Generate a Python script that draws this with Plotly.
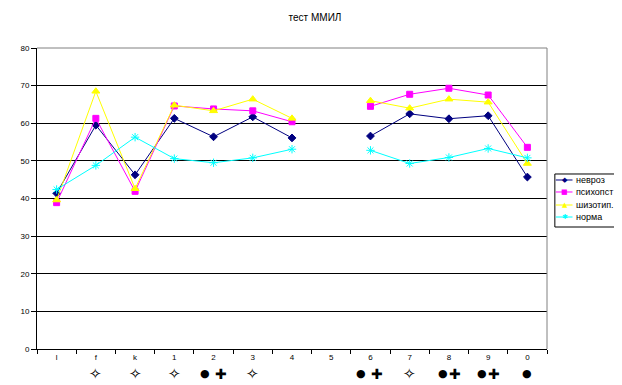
import plotly.graph_objects as go

categories = ["l", "f", "k", "1", "2", "3", "4", "5", "6", "7", "8", "9", "0"]
nevroz = [41.4, 59.5, 46.3, 61.3, 56.4, 61.7, 56.1, None, 56.6, 62.5, 61.2, 62.0, 45.7]
psihopst = [38.9, 61.3, 41.9, 64.6, 63.8, 63.3, 60.4, None, 64.5, 67.7, 69.3, 67.5, 53.6]
shizotip = [39.6, 68.5, 42.6, 64.8, 63.3, 66.4, 61.3, None, 66.0, 64.0, 66.4, 65.6, 49.3]
norma = [42.4, 48.8, 56.3, 50.6, 49.5, 50.8, 53.1, None, 52.8, 49.3, 50.9, 53.3, 50.8]
symbols = ["", "✧", "✧", "✧", "● ✚", "✧", "", "", "● ✚", "✧", "●✚", "●✚", "●"]
series_names = ["невроз", "психопст", "шизотип.", "норма"]
y_ticks = [0, 10, 20, 30, 40, 50, 60, 70, 80]

FONT = "Liberation Sans, Arial, sans-serif"
GLYPH_SIZE = {"✧": 15, "●": 11, "✚": 14}

# page body has an 8px margin: size the figure to fit the window
W, H = 614, 377

fig = go.Figure()
styles = [
    dict(color="#000080", symbol="diamond", size=6, glyph="◆"),
    dict(color="#FF00FF", symbol="square", size=6, glyph="■"),
    dict(color="#FFFF00", symbol="triangle-up", size=7, glyph="▲"),
    dict(color="#00FFFF", symbol="asterisk-open", size=7, glyph="✱"),
]
for name, vals, st in zip(series_names, [nevroz, psihopst, shizotip, norma], styles):
    fig.add_trace(go.Scatter(
        x=categories, y=vals, name=name, mode="lines+markers",
        line=dict(color=st["color"], width=1),
        marker=dict(color=st["color"], symbol=st["symbol"], size=st["size"],
                    line=dict(color=st["color"], width=1)),
        connectgaps=False, showlegend=False,
    ))

# symbols under the category axis
for i, s in enumerate(symbols):
    glyphs = s.replace(" ", "")
    if not glyphs:
        continue
    if len(glyphs) == 1:
        shifts = [0]
    elif " " in s:
        shifts = [-9, 7]
    else:
        shifts = [-6, 6]
    for g, dx in zip(glyphs, shifts):
        fig.add_annotation(x=i, xref="x", y=-0.083, yref="paper", text=g, xshift=dx,
                           showarrow=False,
                           font=dict(family="DejaVu Sans", size=GLYPH_SIZE[g], color="black"),
                           yanchor="middle", xanchor="center")

# compact Excel-style legend
fig.add_shape(type="rect", xref="paper", yref="paper", x0=1.0154, x1=1.1404,
              y0=0.4053, y1=0.5814, line=dict(color="black", width=1), fillcolor="white")
leg_y = [0.5615, 0.5216, 0.4784, 0.4385]
for name, st, ly in zip(series_names, styles, leg_y):
    fig.add_shape(type="line", xref="paper", yref="paper", x0=1.0173, x1=1.05,
                  y0=ly, y1=ly, line=dict(color=st["color"], width=1))
    fig.add_annotation(x=1.0346, y=ly, xref="paper", yref="paper", text=st["glyph"],
                       showarrow=False, xanchor="center", yanchor="middle",
                       font=dict(family="DejaVu Sans", size=7, color=st["color"]))
    fig.add_annotation(x=1.0538, y=ly, xref="paper", yref="paper", text=name,
                       showarrow=False, xanchor="left", yanchor="middle",
                       font=dict(family=FONT, size=9, color="black"))

fig.update_layout(
    width=W, height=H,
    margin=dict(l=19, r=75, t=40, b=36),
    paper_bgcolor="white", plot_bgcolor="white",
    title=dict(text="тест ММИЛ", x=0.5, xanchor="center", y=1 - 9 / H, yanchor="middle",
               font=dict(family=FONT, size=10, color="black")),
    font=dict(family=FONT, size=8, color="black"),
    showlegend=False,
)
fig.update_xaxes(type="category", categoryorder="array", categoryarray=categories,
                 range=[-0.5, 12.5], showline=True, linecolor="black", linewidth=1,
                 ticks="outside", tickson="boundaries", ticklen=4, tickcolor="black",
                 showgrid=False, tickfont=dict(size=8, family=FONT))
fig.update_yaxes(range=[0, 80], tickvals=y_ticks, showline=True, linecolor="black",
                 linewidth=1, ticks="outside", ticklen=5, tickcolor="black",
                 showgrid=True, gridcolor="black", gridwidth=1, zeroline=False,
                 tickfont=dict(size=8, family=FONT))
fig.add_shape(type="line", xref="paper", yref="paper", x0=0, x1=1, y0=1, y1=1,
              line=dict(color="#808080", width=1))
fig.add_shape(type="line", xref="paper", yref="paper", x0=1, x1=1, y0=0, y1=1,
              line=dict(color="#808080", width=1))

fig.write_html("out.html")
